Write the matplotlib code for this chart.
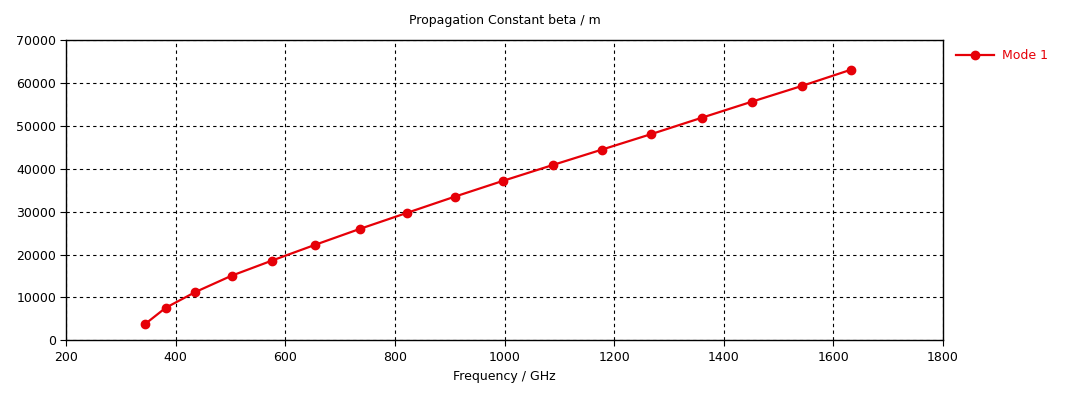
import matplotlib
matplotlib.use("Agg")
import matplotlib.pyplot as plt

# Mode 1 propagation constant vs frequency
freq_ghz = [345, 382, 436, 502, 575, 655, 737, 823, 909, 998,
            1088, 1177, 1268, 1360, 1451, 1542, 1632]
beta_per_m = [3870, 7600, 11270, 15070, 18570, 22310, 26040, 29780, 33510, 37240,
              40900, 44470, 48130, 51940, 55670, 59330, 63140]
x_ticks = [200, 400, 600, 800, 1000, 1200, 1400, 1600, 1800]
y_ticks = [0, 10000, 20000, 30000, 40000, 50000, 60000, 70000]

RED = "#e60008"

plt.rcParams["font.family"] = ["DejaVu Sans"]
plt.rcParams["font.size"] = 9

fig = plt.figure(figsize=(10.78, 3.99), dpi=100)
ax = fig.add_axes([0.0612, 0.147, 0.8136, 0.752])

ax.plot(freq_ghz, beta_per_m, color=RED, linewidth=1.6, marker="o",
        markersize=6, markerfacecolor=RED, markeredgecolor=RED, label="Mode 1")

ax.set_xlim(200, 1800)
ax.set_ylim(0, 70000)
ax.set_xticks(x_ticks)
ax.set_yticks(y_ticks)
ax.set_xticklabels([str(t) for t in x_ticks])
ax.set_yticklabels([str(t) for t in y_ticks])

ax.grid(True, color="black", linestyle=(0, (3, 3)), linewidth=0.8)
ax.tick_params(axis="both", direction="out", length=4, width=0.8,
               colors="black", labelsize=9, top=False, right=False)
ax.tick_params(axis="x", pad=4)
ax.tick_params(axis="y", pad=3)
for side in ax.spines.values():
    side.set_linewidth(1.0)
    side.set_color("black")

ax.set_title("Propagation Constant beta / m", fontsize=9, pad=12)
ax.set_xlabel("Frequency / GHz", fontsize=9, labelpad=4)

leg = ax.legend(loc="upper left", bbox_to_anchor=(1.005, 1.0), frameon=False,
                handlelength=3.0, handletextpad=0.7, borderaxespad=0.3,
                fontsize=9)
for txt in leg.get_texts():
    txt.set_color(RED)

fig.savefig("out.png", dpi=100)
